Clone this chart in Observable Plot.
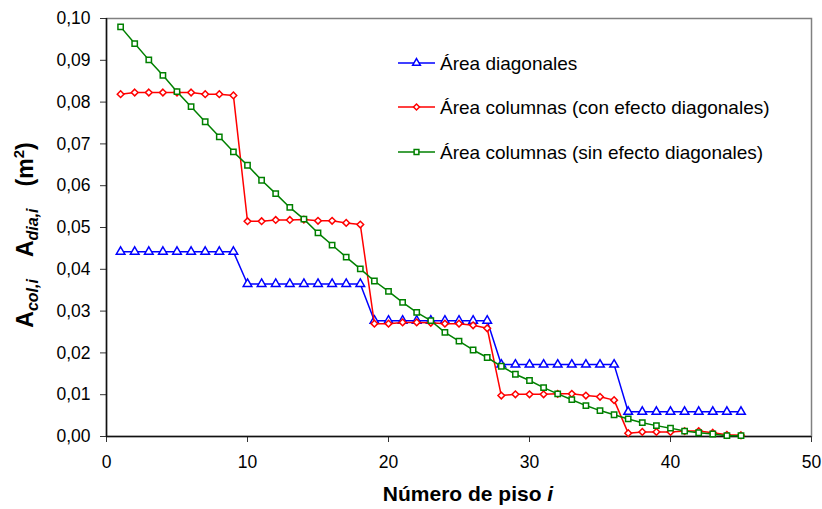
<!DOCTYPE html>
<html><head><meta charset="utf-8">
<script src="https://cdn.jsdelivr.net/npm/d3@7"></script>
<script src="https://cdn.jsdelivr.net/npm/@observablehq/plot@0.6"></script>
<style>body{margin:0;background:#fff}#chart{width:822px;height:509px}</style>
</head><body><div id="chart"></div>
<script>
const piso = [1,2,3,4,5,6,7,8,9,10,11,12,13,14,15,16,17,18,19,20,21,22,23,24,25,26,27,28,29,30,31,32,33,34,35,36,37,38,39,40,41,42,43,44,45];
const areaDiagonales = [
  0.0442,0.0442,0.0442,0.0442,0.0442,0.0442,0.0442,0.0442,0.0442,
  0.0365,0.0365,0.0365,0.0365,0.0365,0.0365,0.0365,0.0365,0.0365,
  0.0277,0.0277,0.0277,0.0277,0.0277,0.0277,0.0277,0.0277,0.0277,
  0.0172,0.0172,0.0172,0.0172,0.0172,0.0172,0.0172,0.0172,0.0172,
  0.0059,0.0059,0.0059,0.0059,0.0059,0.0059,0.0059,0.0059,0.0059];
const areaColConEfecto = [
  0.0819,0.0823,0.0823,0.0823,0.0823,0.0823,0.0819,0.0819,0.0816,
  0.0515,0.0515,0.0518,0.0518,0.0519,0.0516,0.0516,0.0511,0.0507,
  0.0270,0.0270,0.0273,0.0273,0.0272,0.0270,0.0270,0.0266,0.0259,
  0.0098,0.0101,0.0101,0.0101,0.0102,0.0102,0.0098,0.0095,0.0087,
  0.0008,0.0011,0.0011,0.0011,0.0013,0.0013,0.0009,0.0004,0.0003];
const areaColSinEfecto = [
  0.0980,0.0940,0.0901,0.0864,0.0825,0.0789,0.0753,0.0717,0.0681,
  0.0649,0.0613,0.0581,0.0548,0.0520,0.0487,0.0458,0.0429,0.0401,
  0.0372,0.0347,0.0321,0.0297,0.0277,0.0249,0.0228,0.0207,0.0189,
  0.0168,0.0149,0.0134,0.0117,0.0102,0.0088,0.0074,0.0062,0.0052,
  0.0042,0.0033,0.0026,0.0020,0.0013,0.0009,0.0006,0.0002,0.0002];
const xTicks = [0,10,20,30,40,50];
const yTicks = [0,0.01,0.02,0.03,0.04,0.05,0.06,0.07,0.08,0.09,0.10];
const seriesNames = ["Área diagonales","Área columnas (con efecto diagonales)","Área columnas (sin efecto diagonales)"];
const seriesColors = ["#0000FF","#FF0000","#008000"];
const seriesSymbols = ["triangle","diamond2","square"];
const seriesValues = [areaDiagonales, areaColConEfecto, areaColSinEfecto];
const markerR = [3.2, 3.0, 3.0];

const marks = [
  Plot.frame({stroke:"#808080", strokeWidth:1.5}),
  Plot.axisY({ticks:yTicks, tickSize:6, tickPadding:10, label:null, tickFormat:d=>d.toFixed(2).replace(".",","), stroke:"#333"}),
  Plot.axisX({ticks:xTicks, tickSize:6, tickPadding:13, label:null, stroke:"#333"}),
  Plot.ruleX([0], {stroke:"#111", strokeWidth:1.5}),
  Plot.ruleY([0], {stroke:"#111", strokeWidth:1.5})
];
seriesValues.forEach((vals, s) => {
  const rows = vals.map((v,i)=>({piso:piso[i], area:v}));
  marks.push(Plot.line(rows, {x:"piso", y:"area", stroke:seriesColors[s], strokeWidth:1.5}));
  marks.push(Plot.dot(rows, {x:"piso", y:"area", symbol:()=>seriesSymbols[s], r:markerR[s], stroke:seriesColors[s], fill:"white", strokeWidth:1.5}));
});

const svg = Plot.plot({
  width:822, height:509,
  marginLeft:106, marginRight:11, marginTop:18, marginBottom:73,
  x:{domain:[0,50]},
  y:{domain:[0,0.1]},
  symbol:{type:"identity"},
  style:{fontFamily:"'Liberation Sans', Arial, sans-serif", fontSize:"17.5px", color:"#000", background:"#fff"},
  marks
});
document.getElementById("chart").appendChild(svg);

const g = d3.select(svg).append("g").attr("font-family","'Liberation Sans', Arial, sans-serif").attr("text-anchor","start").style("white-space","pre");
// x label
const xl = g.append("text").attr("x",468).attr("y",501).attr("text-anchor","middle").attr("font-weight","bold").attr("font-size",21);
xl.append("tspan").text("Número de piso ");
xl.append("tspan").attr("font-style","italic").text("i");
// y label
const yl = g.append("text").attr("transform","translate(33,235) rotate(-90)").attr("text-anchor","middle").attr("font-weight","bold").attr("font-size",23);
yl.append("tspan").text("A");
yl.append("tspan").attr("font-size",16).attr("font-style","italic").attr("dy",5).text("col,i");
yl.append("tspan").attr("dy",-5).attr("dx",22).text("A");
yl.append("tspan").attr("font-size",16).attr("font-style","italic").attr("dy",5).text("dia,i");
yl.append("tspan").attr("dy",-5).attr("dx",22).text("(m");
yl.append("tspan").attr("font-size",15).attr("dy",-9).text("2");
yl.append("tspan").attr("dy",9).text(")");
// legend
const symMap = {triangle:d3.symbolTriangle, diamond2:d3.symbolDiamond2, square:d3.symbolSquare};
const legY = [63,107,152];
seriesNames.forEach((name,s)=>{
  const y = legY[s];
  g.append("line").attr("x1",398).attr("x2",435).attr("y1",y).attr("y2",y).attr("stroke",seriesColors[s]).attr("stroke-width",1.5);
  g.append("path").attr("d", d3.symbol(symMap[seriesSymbols[s]], markerR[s]*markerR[s]*Math.PI*0.8)()).attr("transform",`translate(416.5,${y})`).attr("fill","white").attr("stroke",seriesColors[s]).attr("stroke-width",1.5);
  g.append("text").attr("x",440).attr("y",y).attr("dy","0.35em").attr("font-size",19).text(name);
});
</script></body></html>
